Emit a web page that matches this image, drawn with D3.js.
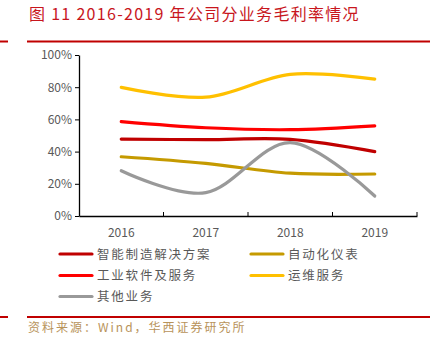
<!DOCTYPE html>
<html><head><meta charset="utf-8">
<script src="https://cdn.jsdelivr.net/npm/d3@7/dist/d3.min.js"></script>
<style>
html,body{margin:0;padding:0;background:#fff;}
svg{display:block;}
</style></head>
<body>
<svg id="c" width="444" height="347"></svg>
<script>
const years = ["2016","2017","2018","2019"];
const seriesNames = ["智能制造解决方案","工业软件及服务","其他业务","自动化仪表","运维服务"];
const znzz = [47.8, 47.4, 47.6, 40.0];
const gyrj = [58.6, 54.8, 53.6, 56.0];
const qt   = [28.1, 14.5, 45.6, 12.4];
const zdh  = [36.8, 32.7, 26.6, 26.1];
const yw   = [79.9, 73.8, 88.0, 85.0];
const yTicks = [0, 20, 40, 60, 80, 100];
const colors = ["#C00000","#FF0000","#999999","#C59A00","#FFC000"];

const svg = d3.select("#c");
const font = "'Noto Sans CJK SC', 'Noto Sans', sans-serif";

// title
svg.append("text").attr("x", 29).attr("y", 20)
  .attr("font-family", font).attr("font-size", 16).attr("font-weight", "normal")
  .attr("letter-spacing", 1.3)
  .attr("fill", "#C8161D").text("图 11 2016-2019 年公司分业务毛利率情况");

// rule lines
[41.5, 317].forEach(y => {
  svg.append("line").attr("x1", 0).attr("x2", 8).attr("y1", y).attr("y2", y)
    .attr("stroke", "#C00000").attr("stroke-width", 2);
  svg.append("line").attr("x1", 27).attr("x2", 430).attr("y1", y).attr("y2", y)
    .attr("stroke", "#C00000").attr("stroke-width", 2);
});

const x0 = 79, x1 = 417, yTop = 55, yBot = 216;
const xb = d3.scaleBand().domain(years).range([x0, x1]);
const y = d3.scaleLinear().domain([0, 100]).range([yBot, yTop]);

// y axis
const yAxis = svg.append("g").attr("transform", `translate(${x0},0)`)
  .call(d3.axisLeft(y).tickValues(yTicks).tickFormat(d => d + "%").tickSize(4).tickSizeOuter(0));
yAxis.select(".domain").attr("stroke", "#000").attr("stroke-width", 1.3);
yAxis.selectAll(".tick line").attr("stroke", "#000").attr("stroke-width", 1);
yAxis.selectAll("text").attr("font-family", font).attr("font-size", 12).attr("fill", "#595959").attr("x", -7);

// x axis
const xAxis = svg.append("g").attr("transform", `translate(0,${yBot})`)
  .call(d3.axisBottom(xb).tickSize(0).tickSizeOuter(0));
xAxis.select(".domain").attr("stroke", "#000").attr("stroke-width", 1.3);
xAxis.selectAll("text").attr("font-family", font).attr("font-size", 12).attr("fill", "#595959").attr("dy", 0).attr("y", 21);
// inward ticks at band boundaries
const bounds = years.slice(1).map(d => xb(d)).concat([x1]);
svg.append("g").selectAll("line").data(bounds).join("line")
  .attr("x1", d => d).attr("x2", d => d).attr("y1", yBot).attr("y2", yBot - 4)
  .attr("stroke", "#000").attr("stroke-width", 1);

const data = [znzz, gyrj, qt, zdh, yw];
const line = d3.line()
  .x((d, i) => xb(years[i]) + xb.bandwidth() / 2)
  .y(d => y(d))
  .curve(d3.curveCardinal.tension(0));
const drawOrder = [4, 1, 0, 3, 2];
drawOrder.forEach(k => {
  svg.append("path").datum(data[k]).attr("d", line)
    .attr("fill", "none").attr("stroke", colors[k]).attr("stroke-width", 3.2)
    .attr("stroke-linecap", "round");
});

// legend
const legendItems = [
  {k: 0, col: 0, row: 0},
  {k: 3, col: 1, row: 0},
  {k: 1, col: 0, row: 1},
  {k: 4, col: 1, row: 1},
  {k: 2, col: 0, row: 2}
];
const colX = [60, 251], rowY = [254, 275.5, 296.5];
legendItems.forEach(it => {
  const lx = colX[it.col], ly = rowY[it.row];
  svg.append("line").attr("x1", lx).attr("x2", lx + 32).attr("y1", ly).attr("y2", ly)
    .attr("stroke", colors[it.k]).attr("stroke-width", 3.2).attr("stroke-linecap", "round");
  svg.append("text").attr("x", lx + 37).attr("y", ly + 4.5)
    .attr("font-family", font).attr("font-size", 12.5).attr("letter-spacing", 1.8)
    .attr("fill", "#595959").text(seriesNames[it.k]);
});

// source
svg.append("text").attr("x", 28).attr("y", 332)
  .attr("font-family", font).attr("font-size", 12).attr("letter-spacing", 2)
  .attr("fill", "#B8935A").text("资料来源：Wind，华西证券研究所");
</script>
</body></html>
